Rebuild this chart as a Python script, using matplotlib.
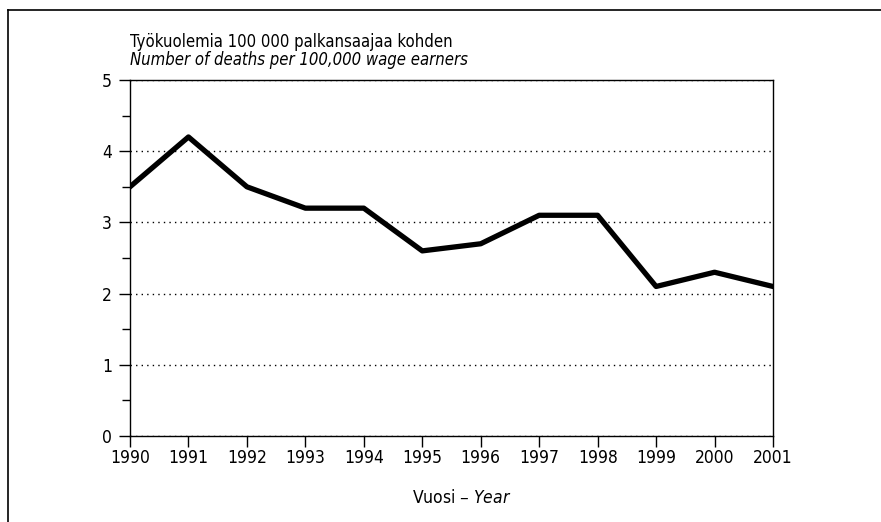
import matplotlib.pyplot as plt
from matplotlib.lines import Line2D
from matplotlib.ticker import MultipleLocator

years = [1990, 1991, 1992, 1993, 1994, 1995, 1996, 1997, 1998, 1999, 2000, 2001]
deaths = [3.5, 4.2, 3.5, 3.2, 3.2, 2.6, 2.7, 3.1, 3.1, 2.1, 2.3, 2.1]
yticks = [0, 1, 2, 3, 4, 5]

plt.rcParams['font.family'] = ['DejaVu Sans']
plt.rcParams['font.stretch'] = 'condensed'

fig = plt.figure(figsize=(8.81, 5.22), dpi=100)
ax = fig.add_axes([130 / 881, 1 - 436 / 522, 643 / 881, 356 / 522])

ax.plot(years, deaths, color='black', lw=3.8, solid_joinstyle='round', zorder=3)

ax.set_xlim(1990, 2001)
ax.set_ylim(0, 5)
ax.set_xticks(years)
ax.set_yticks(yticks)
ax.yaxis.set_minor_locator(MultipleLocator(0.5))
ax.tick_params(axis='both', labelsize=12.5, width=1, length=8, direction='out')
ax.tick_params(axis='x', pad=1.5)
ax.tick_params(axis='y', pad=5)
ax.tick_params(axis='y', which='minor', length=6, width=1)
ax.grid(axis='y', linestyle=(0, (1, 3)), color='black', lw=1)
ax.set_axisbelow(True)
for s in ax.spines.values():
    s.set_linewidth(1)

ax.set_xlabel('Vuosi – $\\it{Year}$', fontsize=12.5)
ax.xaxis.set_label_coords(0.515, -0.15)
fig.text(130 / 881, 1 - 42 / 522, 'Työkuolemia 100 000 palkansaajaa kohden',
         fontsize=12, va='center', ha='left')
fig.text(130 / 881, 1 - 60 / 522, 'Number of deaths per 100,000 wage earners',
         fontsize=12, va='center', ha='left', style='italic')

# outer frame
fig.add_artist(Line2D([8 / 881, 8 / 881], [0, 1 - 10 / 522], color='black', lw=1.2))
fig.add_artist(Line2D([8 / 881, 1], [1 - 10 / 522, 1 - 10 / 522], color='black', lw=1.2))

fig.savefig('out.png', dpi=100)
